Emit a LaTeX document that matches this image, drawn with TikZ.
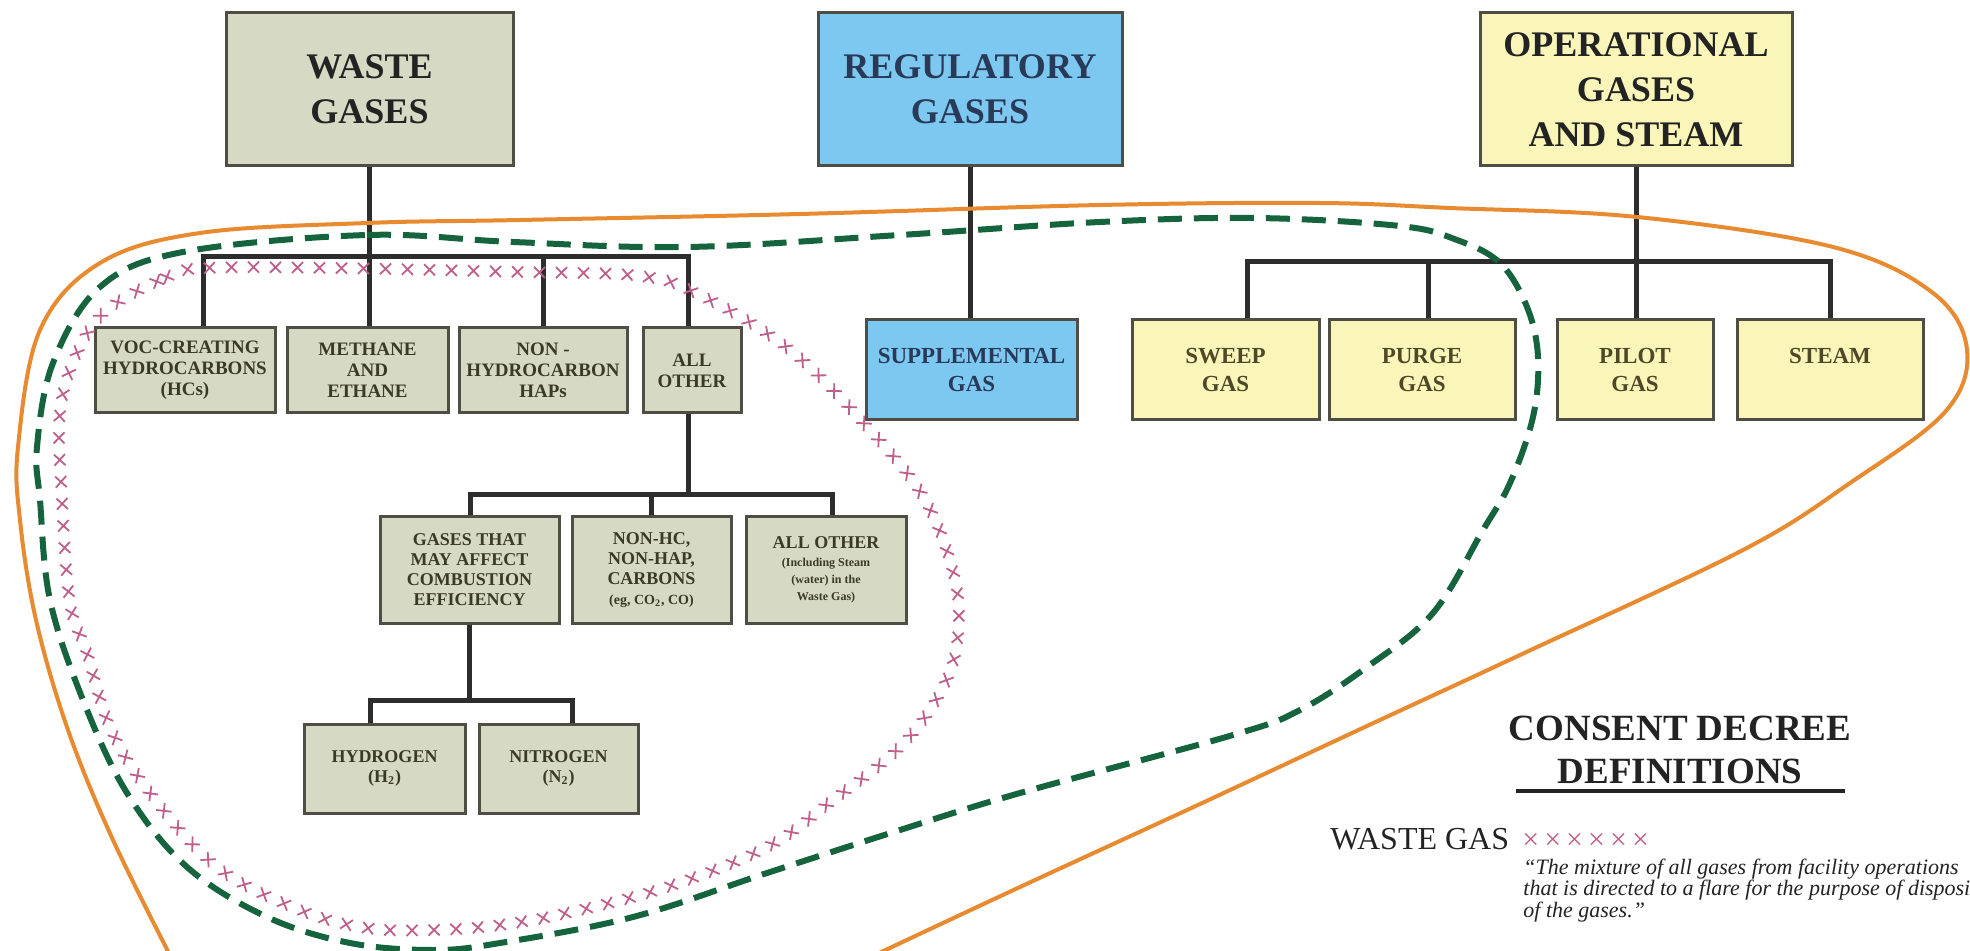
\documentclass[tikz,border=0pt]{standalone}
\usepackage{fontspec}
\setmainfont{Liberation Serif}
\usetikzlibrary{decorations.shapes}

\definecolor{boxline}{RGB}{78,78,68}
\definecolor{linkgray}{RGB}{45,45,45}
\definecolor{grayfill}{RGB}{214,217,196}
\definecolor{graytext}{RGB}{58,58,40}
\definecolor{bluefill}{RGB}{125,200,240}
\definecolor{bluetext}{RGB}{40,58,88}
\definecolor{yellowfill}{RGB}{250,245,185}
\definecolor{yellowtext}{RGB}{78,72,40}
\definecolor{orangeline}{RGB}{232,138,48}
\definecolor{greendash}{RGB}{22,100,62}
\definecolor{pinkx}{RGB}{190,95,140}
\definecolor{headtext}{RGB}{35,35,35}

\tikzset{
  box/.style={draw=boxline, line width=1.5pt, inner sep=0pt, align=center},
  topbox/.style={box, font=\fontsize{18}{22.5}\selectfont\bfseries},
  graybox/.style={box, fill=grayfill, text=graytext, font=\fontsize{9.5}{10.5}\selectfont\bfseries},
  lowbox/.style={box, fill=grayfill, text=graytext, font=\fontsize{9}{10}\selectfont\bfseries},
  bluebox/.style={box, fill=bluefill, text=bluetext, font=\fontsize{11.5}{14}\selectfont\bfseries},
  yellowbox/.style={box, fill=yellowfill, text=yellowtext, font=\fontsize{11.5}{14}\selectfont\bfseries},
  link/.style={draw=linkgray, line width=2.5pt, line join=miter},
  flareline/.style={draw=orangeline, line width=2pt},
  wasteline/.style={draw=greendash, line width=3pt, dash pattern=on 12pt off 6pt},
  crossline/.style={draw=pinkx, line width=0.9pt, decorate,
    decoration={crosses, segment length=11pt, shape size=5.5pt}},
}

\begin{document}
\begin{tikzpicture}[x=0.5pt, y=-0.5pt]
	\useasboundingbox (0,0) rectangle (1970,951);
	\fill[white] (0,0) rectangle (1970,951);
	\clip (0,0) rectangle (1970,951);

	% top level
	\node[topbox, fill=grayfill, text=headtext, minimum width=143.5pt, minimum height=76.5pt] (waste) at (369.5,89.5) {WASTE\\GASES};
	\node[topbox, fill=bluefill, text=bluetext, minimum width=152pt, minimum height=76.5pt] (reg) at (970,89.5) {REGULATORY\\GASES};
	\node[topbox, fill=yellowfill, text=headtext, minimum width=156pt, minimum height=76.5pt] (op) at (1636,89.5) {OPERATIONAL\\GASES\\AND STEAM};

	% first row
	\node[graybox, minimum width=90pt, minimum height=42.5pt] (voc) at (185,370.5) {VOC-CREATING\\HYDROCARBONS\\(HCs)};
	\node[graybox, minimum width=80.5pt, minimum height=42.5pt] (meth) at (367.5,370.5) {METHANE\\AND\\ETHANE};
	\node[graybox, minimum width=84pt, minimum height=42.5pt] (nonhc) at (543,370.5) {NON -\\HYDROCARBON\\HAPs};
	\node[graybox, minimum width=49pt, minimum height=42.5pt] (allo) at (692,370.5) {ALL\\OTHER};
	\node[bluebox, minimum width=105.5pt, minimum height=50pt] (supp) at (971.5,370) {SUPPLEMENTAL\\GAS};
	\node[yellowbox, minimum width=93.5pt, minimum height=50pt] (sweep) at (1225.5,370) {SWEEP\\GAS};
	\node[yellowbox, minimum width=93pt, minimum height=50pt] (purge) at (1422,370) {PURGE\\GAS};
	\node[yellowbox, minimum width=78pt, minimum height=50pt] (pilot) at (1635,370) {PILOT\\GAS};
	\node[yellowbox, minimum width=93pt, minimum height=50pt] (steam) at (1830,370) {STEAM\\~};

	% second row
	\node[lowbox, minimum width=89.5pt, minimum height=53pt] (affect) at (469.5,570) {GASES THAT\\MAY AFFECT\\COMBUSTION\\EFFICIENCY};
	\node[lowbox, minimum width=79.5pt, minimum height=53pt] (carbon) at (651.5,570) {NON-HC,\\NON-HAP,\\CARBONS\\{\fontsize{7}{9}\selectfont (eg, CO\textsubscript{2}, CO)}};
	\node[lowbox, minimum width=80pt, minimum height=53pt] (allo2) at (826,570) {ALL OTHER\\[-1pt]{\fontsize{6}{7}\selectfont (Including Steam}\\[-1.5pt]{\fontsize{6}{7}\selectfont (water) in the}\\[-1.5pt]{\fontsize{6}{7}\selectfont Waste Gas)}};

	% third row
	\node[lowbox, minimum width=80.5pt, minimum height=44.5pt] (hydro) at (384.5,768.5) {HYDROGEN\\(H\textsubscript{2})};
	\node[lowbox, minimum width=79.5pt, minimum height=44.5pt] (nitro) at (558.5,768.5) {NITROGEN\\(N\textsubscript{2})};

	% bars
	\coordinate (wbarL) at (203,257);
	\coordinate (wbarR) at (688,257);
	\coordinate (abarL) at (470,495);
	\coordinate (abarR) at (832,495);
	\coordinate (hbarL) at (370,700);
	\coordinate (hbarR) at (572,700);
	\coordinate (obarL) at (1247,262);
	\coordinate (obarR) at (1830,262);

	\draw[link] (waste.south) -- (meth.north -| waste.south);
	\draw[link] (voc.north -| wbarL) -- (wbarL) -- (wbarR) -- (allo.north -| wbarR);
	\draw[link] (nonhc.north) -- (nonhc.north |- wbarL);
	\draw[link] (allo.south -| wbarR) -- (wbarR |- abarL);
	\draw[link] (affect.north -| abarL) -- (abarL) -- (abarR) -- (allo2.north -| abarR);
	\draw[link] (carbon.north) -- (carbon.north |- abarL);
	\draw[link] (affect.south) -- (affect.south |- hbarL);
	\draw[link] (hydro.north -| hbarL) -- (hbarL) -- (hbarR) -- (nitro.north -| hbarR);
	\draw[link] (reg.south) -- (supp.north -| reg.south);
	\draw[link] (op.south) -- (pilot.north -| op.south);
	\draw[link] (sweep.north -| obarL) -- (obarL) -- (obarR) -- (steam.north);
	\draw[link] (purge.north -| 1428,0) -- (obarL -| 1428,0);

	% definitions
	\node[anchor=base, text=headtext, font=\fontsize{18.5}{21}\selectfont\bfseries] (cdtitle) at (1680,740) {CONSENT DECREE};
	\node[anchor=base, text=headtext, font=\fontsize{18.5}{21}\selectfont\bfseries] (cddef) at (1680,783) {DEFINITIONS};
	\draw[headtext, line width=2pt] (1516,791) -- (1845,791);
	\node[anchor=base west, inner sep=0pt, text=headtext, font=\fontsize{16}{19}\selectfont] (wgas) at (1330,849) {WASTE GAS};
	\node[anchor=base west, inner sep=0pt, text=pinkx, font=\fontsize{15}{17}\selectfont] (wgasx) at (1522,849) {×\,×\,×\,×\,×\,×};
	\node[anchor=base west, inner sep=0pt, align=left, text=headtext, font=\fontsize{11}{10.75}\selectfont\itshape] (quote) at (1523,917)
		{“The mixture of all gases from facility operations\\that is directed to a flare for the purpose of disposition\\of the gases.”};

	% outlines
	\draw[flareline] plot[smooth, tension=0.6] coordinates {(175,965) (113,840) (68,730) (36,620) (20,520) (18,447) (40,330) (100,263) (200,233) (367,223) (520,220) (800,214) (1100,205) (1319,203) (1450,208) (1637,217) (1833,247) (1933,293) (1967,350) (1945,412) (1850,483) (1743,550) (1520,655) (1367,726) (1200,804) (1020,887) (860,962)};
	\draw[wasteline] plot[smooth cycle, tension=0.6] coordinates {(183,252) (367,235) (513,242) (688,247) (900,235) (1100,222) (1256,218) (1400,226) (1457,240) (1500,263) (1527,307) (1538,357) (1533,417) (1510,483) (1483,530) (1433,613) (1367,667) (1300,710) (1233,735) (1020,793) (900,830) (767,873) (633,917) (500,943) (433,950) (350,943) (267,917) (187,867) (127,793) (83,700) (50,600) (40,500) (37,447) (53,363) (100,287)};
	\draw[crossline] plot[smooth cycle, tension=0.6] coordinates {(107,310) (167,277) (207,268) (333,268) (520,272) (640,276) (700,295) (790,350) (870,430) (925,500) (955,580) (957,643) (940,693) (900,747) (833,800) (767,847) (667,887) (567,913) (500,925) (433,930) (367,928) (300,910) (217,867) (150,793) (110,727) (87,653) (70,603) (62,500) (60,413) (77,353)};
\end{tikzpicture}
\end{document}
